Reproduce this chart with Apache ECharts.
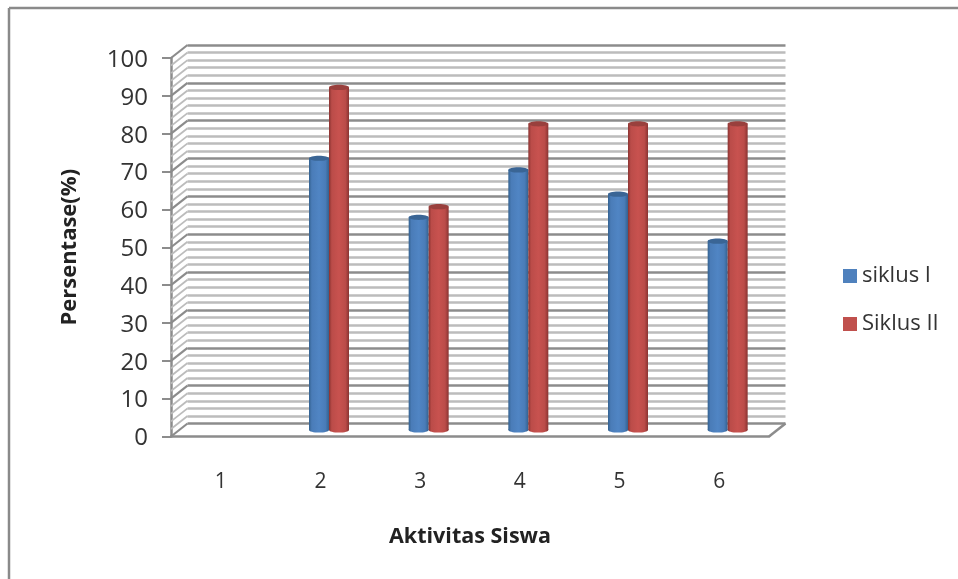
<!DOCTYPE html>
<html>
<head>
<meta charset="utf-8">
<style>html,body{margin:0;padding:0;background:#fff}#c{width:958px;height:579px;filter:blur(0.45px)}</style>
<script src="https://cdn.jsdelivr.net/npm/echarts@6/dist/echarts.min.js"></script>
</head>
<body>
<div id="c"></div>
<script>
const categories = ['1','2','3','4','5','6'];
const siklusI  = [null, 71.8, 56.2, 68.7, 62.3, 49.9];
const siklusII = [null, 90.5, 59.0, 80.9, 80.9, 80.9];
const wallValues = [];
for (let v = 0; v <= 100; v += 2) wallValues.push(v);

const FONT = 'Open Sans';
const GRID = '#8c8c8c', MINOR = '#bcbcbc';
const WX = -16.5, WY = 13;   // depth offset of the 3D wall
const BAR_W = 20;

function cyl(dark, mid, light) {
  return {type:'linear',x:0,y:0,x2:1,y2:0,colorStops:[
    {offset:0,color:dark},{offset:0.14,color:mid},{offset:0.5,color:light},{offset:0.82,color:mid},{offset:1,color:dark}]};
}
const blueFill = cyl('#33618f','#4a7cb8','#5085c4');
const redFill  = cyl('#8a3331','#bb4c49','#c8524f');

function barSeries(name, data, fill, capColor, side) {
  const rows = data.map((v,i)=>[i,v]).filter(r=>r[1]!==null);
  return [
    {name, type:'bar', xAxisIndex:2, yAxisIndex:2, data, barWidth:BAR_W, barGap:'0%', itemStyle:{color:fill}, z:5},
    {name, type:'custom', xAxisIndex:2, yAxisIndex:2, coordinateSystem:'cartesian2d', z:6, silent:true,
      data:rows, encode:{x:0,y:1},
      renderItem:(p,api)=>{
        const top=api.coord([api.value(0),api.value(1)]), bot=api.coord([api.value(0),0]);
        const cx=top[0]+side*BAR_W/2;
        return {type:'group',children:[
          {type:'ellipse',shape:{cx,cy:bot[1],rx:BAR_W/2,ry:2.6},style:{fill}},
          {type:'ellipse',shape:{cx,cy:top[1],rx:BAR_W/2,ry:2.6},style:{fill:capColor}}
        ]};
      }}
  ];
}

const chart = echarts.init(document.getElementById('c'), null, {renderer:'canvas'});
chart.setOption({
  animation:false,
  backgroundColor:'#fff',
  textStyle:{fontFamily:FONT},
  graphic:[
    {type:'line',shape:{x1:9,y1:8,x2:958,y2:8},style:{stroke:'#8a8a8a',lineWidth:2.5},silent:true},
    {type:'line',shape:{x1:9,y1:8,x2:9,y2:579},style:{stroke:'#8a8a8a',lineWidth:2.5},silent:true}
  ],
  legend:{
    orient:'vertical', left:838, top:260, itemWidth:14, itemHeight:14, itemGap:26,
    icon:'rect', selectedMode:false,
    textStyle:{fontFamily:FONT,fontSize:22,color:'#333'},
    data:[{name:'siklus I',itemStyle:{color:'#4f81bd'}},{name:'Siklus II',itemStyle:{color:'#c0504d'}}]
  },
  grid:[
    {left:171, top:58, width:598, height:378.5},     // front plane: axes
    {left:187.5, top:45, width:598, height:378.5},   // back wall: gridlines
    {left:179.5, top:51.5, width:598, height:378.5}, // mid depth: bars
    {left:171, top:60, width:598, height:378.5}      // value labels
  ],
  xAxis:[
    {gridIndex:0,type:'category',data:categories,name:'Aktivitas Siswa',nameLocation:'middle',nameGap:89,
      nameTextStyle:{fontFamily:FONT,fontSize:21.5,fontWeight:'bold',color:'#222'},
      axisLine:{lineStyle:{color:GRID,width:2.5}},axisTick:{show:false},
      axisLabel:{fontFamily:FONT,fontSize:21,color:'#333',margin:35}},
    {gridIndex:1,type:'value',min:0,max:1,show:false},
    {gridIndex:2,type:'category',data:categories,show:false},
    {gridIndex:3,type:'category',data:categories,show:false}
  ],
  yAxis:[
    {gridIndex:0,type:'value',min:0,max:100,interval:10,name:'Persentase(%)',nameLocation:'middle',nameGap:90,
      nameTextStyle:{fontFamily:FONT,fontSize:22,fontWeight:'bold',color:'#222'},
      axisLine:{show:true,lineStyle:{color:GRID,width:2.5}},
      axisTick:{show:true,length:9,lineStyle:{color:GRID,width:2}},
      axisLabel:{show:false},
      splitLine:{show:false}},
    {gridIndex:1,type:'value',min:0,max:100,interval:10,
      axisLine:{show:false},axisTick:{show:false},axisLabel:{show:false},
      splitLine:{show:true,lineStyle:{color:GRID,width:2.5}},
      minorTick:{show:false,splitNumber:5},
      minorSplitLine:{show:true,lineStyle:{color:MINOR,width:2.5}}},
    {gridIndex:2,type:'value',min:0,max:100,interval:10,show:false},
    {gridIndex:3,type:'value',min:0,max:100,interval:10,
      axisLine:{show:false},axisTick:{show:false},splitLine:{show:false},
      axisLabel:{fontFamily:FONT,fontSize:24,color:'#333',margin:23}}
  ],
  series:[
    {type:'custom',name:'wall',xAxisIndex:1,yAxisIndex:1,coordinateSystem:'cartesian2d',silent:true,z:1,
      data:wallValues.map(v=>[0,v]),encode:{x:0,y:1},
      renderItem:(p,api)=>{
        const v=api.value(1), a=api.coord([0,v]);
        return {type:'line',shape:{x1:a[0],y1:a[1],x2:a[0]+WX,y2:a[1]+WY},
          style:{stroke:v%10===0?GRID:MINOR,lineWidth:v%10===0?2.2:1.8}};
      }},
    {type:'custom',name:'floor',xAxisIndex:1,yAxisIndex:1,coordinateSystem:'cartesian2d',silent:true,z:1,
      data:[[1,0]],encode:{x:0,y:1},
      renderItem:(p,api)=>{
        const a=api.coord([1,0]);
        return {type:'line',shape:{x1:a[0],y1:a[1],x2:a[0]+WX,y2:a[1]+WY},style:{stroke:GRID,lineWidth:2.5}};
      }},
    ...barSeries('siklus I', siklusI, blueFill, '#3a6595', -1),
    ...barSeries('Siklus II', siklusII, redFill, '#99403d', 1)
  ]
});
</script>
</body>
</html>
